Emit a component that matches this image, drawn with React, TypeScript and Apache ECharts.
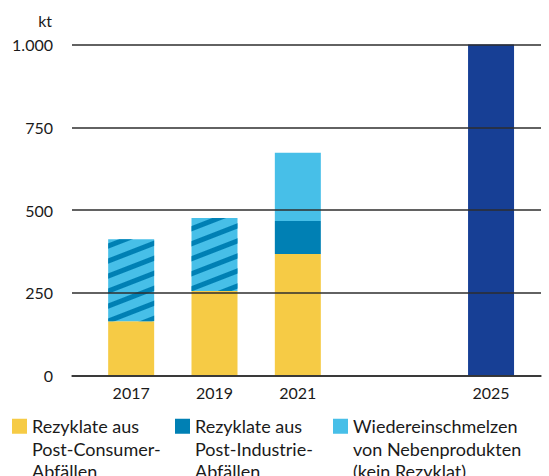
import React, { useEffect, useRef } from "react";
import * as echarts from "echarts";

const years = ["2017", "2019", "2021"];
const targetYears = ["2025"];
const postConsumer = [164, 255, 367];
const unsplitRest = [248, 221, null];
const postIndustrie = [null, null, 100];
const remelting = [null, null, 206];
const target = [1000];
const yTicks = { min: 0, max: 1000, step: 250 };
const unit = "kt";

const legendNames = [
  "Rezyklate aus Post-Consumer-Abfällen",
  "Rezyklate aus Post-Industrie-Abfällen",
  "Wiedereinschmelzen von Nebenprodukten (kein Rezyklat)",
];
const legendLines = [
  "Rezyklate aus\nPost-Consumer-\nAbfällen",
  "Rezyklate aus\nPost-Industrie-\nAbfällen",
  "Wiedereinschmelzen\nvon Nebenprodukten\n(kein Rezyklat)",
];

const YELLOW = "#F6CB45";
const DARK = "#0080B4";
const LIGHT = "#47BFE8";
const NAVY = "#173F95";
const TEXT = "#1a1a1a";
const LINE = "#2e2e2e";
const FONT = "Lato";

function fmt(v: number) {
  return String(v).replace(/\B(?=(\d{3})+(?!\d))/g, ".");
}

export default function App() {
  const ref = useRef<HTMLDivElement>(null);
  useEffect(() => {
    document.body.style.margin = "0";
    if (!ref.current) return;
    const chart = echarts.init(ref.current, null, { renderer: "svg" });
    const top = 44.5;
    const bottom = 100.5;
    const legendX = [12, 175, 333];
    const lineH = 22.5;
    const iconH = lineH * 2 + 15;
    const option: any = {
      animation: false,
      textStyle: { fontFamily: FONT },
      grid: [
        { left: 72, right: 8, top, bottom },
        { left: 89.5, width: 250, top, bottom },
        { left: 449.4, width: 83.3, top, bottom },
      ],
      xAxis: [
        {
          gridIndex: 0,
          type: "value",
          min: 0,
          max: 1,
          axisLine: { show: true, lineStyle: { color: LINE, width: 1.5 } },
          axisTick: { show: false },
          axisLabel: { show: false },
          splitLine: { show: false },
          z: 10,
        },
        {
          gridIndex: 1,
          type: "category",
          data: years,
          axisLine: { show: false },
          axisTick: { show: false },
          axisLabel: { color: TEXT, fontSize: 16, fontFamily: FONT, margin: 9 },
        },
        {
          gridIndex: 2,
          type: "category",
          data: targetYears,
          axisLine: { show: false },
          axisTick: { show: false },
          axisLabel: { color: TEXT, fontSize: 16, fontFamily: FONT, margin: 9 },
        },
      ],
      yAxis: [
        {
          gridIndex: 0,
          type: "value",
          min: yTicks.min,
          max: yTicks.max,
          interval: yTicks.step,
          name: unit,
          nameLocation: "end",
          nameGap: 24,
          nameTextStyle: {
            color: TEXT,
            fontSize: 16,
            fontFamily: FONT,
            align: "right",
            verticalAlign: "middle",
            padding: [0, 20, 0, 0],
          },
          axisLine: { show: false },
          axisTick: { show: false },
          axisLabel: { color: TEXT, fontSize: 16, fontFamily: FONT, margin: 19, formatter: fmt },
          splitLine: { show: true, lineStyle: { color: LINE, width: 1.5 } },
          z: 10,
        },
        { gridIndex: 1, type: "value", min: yTicks.min, max: yTicks.max, show: false, splitLine: { show: false } },
        { gridIndex: 2, type: "value", min: yTicks.min, max: yTicks.max, show: false, splitLine: { show: false } },
      ],
      legend: legendNames.map((n, i) => ({
        data: [n],
        left: legendX[i],
        top: 415,
        padding: 0,
        itemWidth: 15,
        itemHeight: iconH,
        icon: `path://M0,0H15V15H0Z M0,${iconH}h0.01`,
        selectedMode: false,
        formatter: () => legendLines[i],
        textStyle: {
          color: TEXT,
          fontSize: 18,
          fontFamily: FONT,
          lineHeight: lineH,
        },
      })),
      series: [
        {
          name: legendNames[0],
          type: "bar",
          xAxisIndex: 1,
          yAxisIndex: 1,
          stack: "a",
          barWidth: 46,
          data: postConsumer,
          itemStyle: { color: YELLOW },
        },
        {
          name: "unsplit",
          type: "bar",
          xAxisIndex: 1,
          yAxisIndex: 1,
          stack: "a",
          barWidth: 46,
          data: unsplitRest,
          itemStyle: {
            color: LIGHT,
            decal: {
              symbol: "rect",
              symbolSize: 1,
              dashArrayX: [1, 0],
              dashArrayY: [4.8, 8.8],
              rotation: -0.37,
              color: DARK,
            },
          },
        },
        {
          name: legendNames[1],
          type: "bar",
          xAxisIndex: 1,
          yAxisIndex: 1,
          stack: "a",
          barWidth: 46,
          data: postIndustrie,
          itemStyle: { color: DARK },
        },
        {
          name: legendNames[2],
          type: "bar",
          xAxisIndex: 1,
          yAxisIndex: 1,
          stack: "a",
          barWidth: 46,
          data: remelting,
          itemStyle: { color: LIGHT },
        },
        {
          name: "Ziel 2025",
          type: "bar",
          xAxisIndex: 2,
          yAxisIndex: 2,
          barWidth: 46,
          data: target,
          itemStyle: { color: NAVY },
        },
      ],
    };
    chart.setOption(option);
    return () => chart.dispose();
  }, []);
  return <div ref={ref} style={{ width: 549, height: 476 }} />;
}
